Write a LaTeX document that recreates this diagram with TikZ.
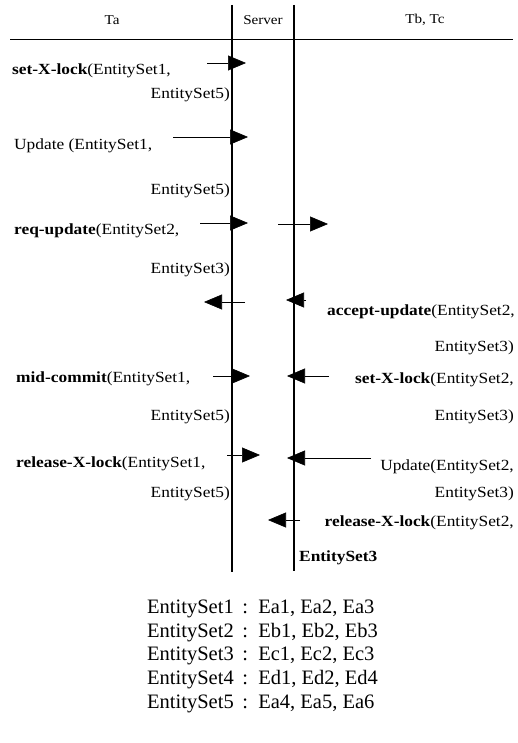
\documentclass[tikz,border=0pt]{standalone}
\usepackage{fontspec}
\setmainfont{Liberation Serif}
\newfontfamily\lblfont{Liberation Serif}[FakeStretch=1.12]
\usetikzlibrary{arrows.meta}

\begin{document}
\begin{tikzpicture} [x=1pt, y=-1pt]
    \tikzstyle{life line} = [draw,line width=1.3pt]
    \tikzstyle{msg} = [draw,line width=0.6pt,-{Triangle[length=18pt,width=15pt]}]
    \tikzstyle{lbl} = [inner sep=0pt,font=\lblfont\fontsize{15.5}{15.5}\selectfont]
    \tikzstyle{hdr} = [inner sep=0pt,font=\lblfont\fontsize{13.5}{13.5}\selectfont]
    \tikzstyle{set} = [inner sep=0pt,anchor=base west,font=\fontsize{20.5}{20.5}\selectfont]

      \useasboundingbox (0,0) rectangle (518,743);

      % header
      \node[hdr] (ta)  at (112,20) {Ta};
      \node[hdr] (srv) at (263,20) {Server};
      \node[hdr] (tbc) at (425,20) {Tb, Tc};

      \coordinate (hl) at (10,40);
      \coordinate (hr) at (513,40);
      \draw[line width=1pt] (hl) -- (hr);

      \coordinate (s1t) at (232,5);
      \coordinate (s1b) at (232,572);
      \coordinate (s2t) at (294,5);
      \coordinate (s2b) at (294,571);
      \draw[life line] (s1t) -- (s1b);
      \draw[life line] (s2t) -- (s2b);

      % Ta side
      \node[lbl,anchor=base west] (l1a) at (12,75)  {\textbf{set-X-lock}(EntitySet1,};
      \node[lbl,anchor=base east] (l1b) at (230,99) {EntitySet5)};
      \node[lbl,anchor=base west] (l2a) at (14,150) {Update (EntitySet1,};
      \node[lbl,anchor=base east] (l2b) at (230,195) {EntitySet5)};
      \node[lbl,anchor=base west] (l3a) at (14,234) {\textbf{req-update}(EntitySet2,};
      \node[lbl,anchor=base east] (l3b) at (230,273) {EntitySet3)};
      \node[lbl,anchor=base west] (l5a) at (16,382) {\textbf{mid-commit}(EntitySet1,};
      \node[lbl,anchor=base east] (l5b) at (230,420) {EntitySet5)};
      \node[lbl,anchor=base west] (l6a) at (16,467) {\textbf{release-X-lock}(EntitySet1,};
      \node[lbl,anchor=base east] (l6b) at (230,497) {EntitySet5)};

      % Tb, Tc side
      \node[lbl,anchor=base east] (r4a) at (515,315) {\textbf{accept-update}(EntitySet2,};
      \node[lbl,anchor=base east] (r4b) at (514,351) {EntitySet3)};
      \node[lbl,anchor=base east] (r5a) at (514,383) {\textbf{set-X-lock}(EntitySet2,};
      \node[lbl,anchor=base east] (r5b) at (514,420) {EntitySet3)};
      \node[lbl,anchor=base east] (r6a) at (514,470) {Update(EntitySet2,};
      \node[lbl,anchor=base east] (r6b) at (514,497) {EntitySet3)};
      \node[lbl,anchor=base east] (r7a) at (514,526) {\textbf{release-X-lock}(EntitySet2,};
      \node[lbl,anchor=base west] (r7b) at (299,561) {\textbf{EntitySet3}};

      % messages
      \coordinate (m1s) at (207,63);  \coordinate (m1e) at (246,63);
      \coordinate (m2s) at (173,137); \coordinate (m2e) at (248,137);
      \coordinate (m3s) at (200,223); \coordinate (m3e) at (248,223);
      \coordinate (m4s) at (278,224); \coordinate (m4e) at (328,224);
      \coordinate (m5s) at (245,302); \coordinate (m5e) at (204,302);
      \coordinate (m6s) at (306,300); \coordinate (m6e) at (286,300);
      \coordinate (m7s) at (213,376); \coordinate (m7e) at (250,376);
      \coordinate (m8s) at (329,376); \coordinate (m8e) at (287,376);
      \coordinate (m9s) at (227,455); \coordinate (m9e) at (260,455);
      \coordinate (m10s) at (371,458); \coordinate (m10e) at (287,458);
      \coordinate (m11s) at (300,520); \coordinate (m11e) at (268,520);

      \draw[msg] (m1s) -- (m1e);
      \draw[msg] (m2s) -- (m2e);
      \draw[msg] (m3s) -- (m3e);
      \draw[msg] (m4s) -- (m4e);
      \draw[msg] (m5s) -- (m5e);
      \draw[msg] (m6s) -- (m6e);
      \draw[msg] (m7s) -- (m7e);
      \draw[msg] (m8s) -- (m8e);
      \draw[msg] (m9s) -- (m9e);
      \draw[msg] (m10s) -- (m10e);
      \draw[msg] (m11s) -- (m11e);

      % entity sets
      \node[set] (es1) at (147,613) {EntitySet1 \,:\, Ea1, Ea2, Ea3};
      \node[set] (es2) at (147,637) {EntitySet2 \,:\, Eb1, Eb2, Eb3};
      \node[set] (es3) at (147,660) {EntitySet3 \,:\, Ec1, Ec2, Ec3};
      \node[set] (es4) at (147,684) {EntitySet4 \,:\, Ed1, Ed2, Ed4};
      \node[set] (es5) at (147,708) {EntitySet5 \,:\, Ea4, Ea5, Ea6};
    \end{tikzpicture}
\end{document}
